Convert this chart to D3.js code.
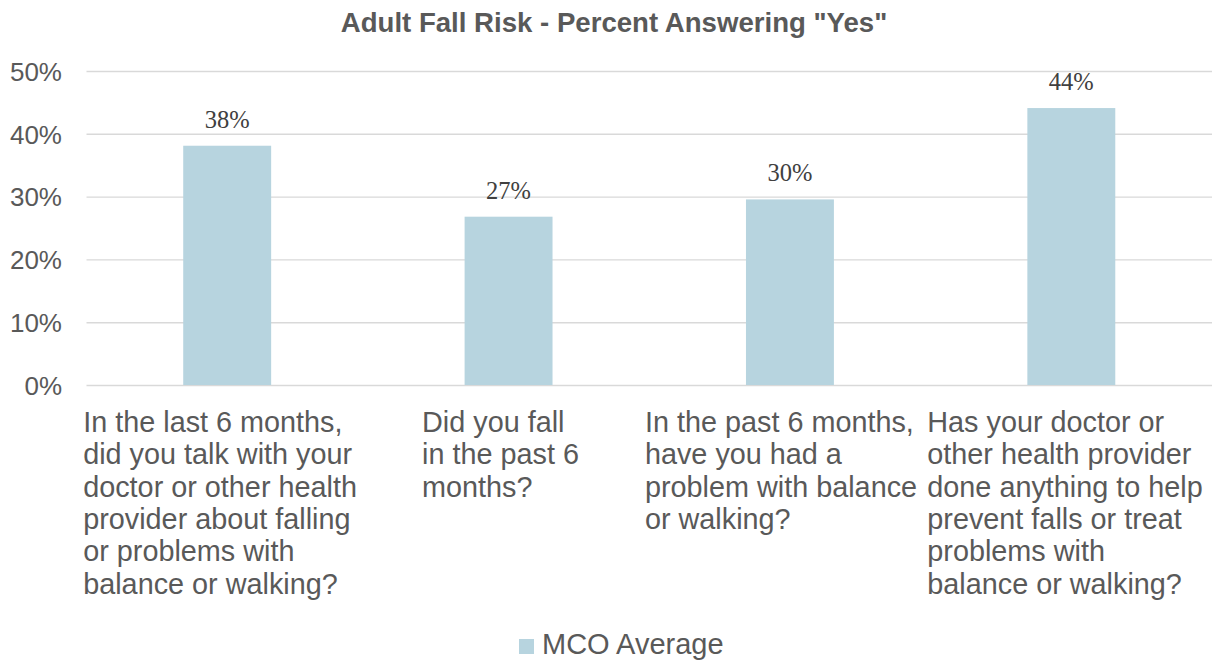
<!DOCTYPE html>
<html>
<head>
<meta charset="utf-8">
<script src="https://cdn.jsdelivr.net/npm/d3@7"></script>
<style>
  html, body { margin: 0; padding: 0; background: #ffffff; }
  svg { display: block; }
</style>
</head>
<body>
<svg id="chart" width="1212" height="660"></svg>
<script>
// Survey questions (one wrapped label per bar, line by line)
const categories = [
  ["In the last 6 months,", "did you talk with your", "doctor or other health", "provider about falling", "or problems with", "balance or walking?"],
  ["Did you fall", "in the past 6", "months?"],
  ["In the past 6 months,", "have you had a", "problem with balance", "or walking?"],
  ["Has your doctor or", "other health provider", "done anything to help", "prevent falls or treat", "problems with", "balance or walking?"]
];
// Share answering "Yes" (MCO Average)
const mcoAverage = [0.381, 0.268, 0.2955, 0.441];
const seriesName = "MCO Average";
const yTicks = [0, 0.1, 0.2, 0.3, 0.4, 0.5];
const chartTitle = 'Adult Fall Risk - Percent Answering "Yes"';

// Width of the text box each category label wraps into
const labelBoxWidths = [288, 173, 290, 288];

const svg = d3.select("#chart");
const plot = { left: 86.5, right: 1212, top: 71, bottom: 385 };
const textColor = "#595959";
const barColor = "#b7d4df";
const gridColor = "#d9d9d9";
const sans = "Arial, 'Liberation Sans', Helvetica, sans-serif";
const serif = "'Times New Roman', 'Liberation Serif', serif";

const x = d3.scaleBand()
  .domain(d3.range(categories.length))
  .range([plot.left, plot.right])
  .paddingInner(0.6875)
  .paddingOuter(0.34375);

const y = d3.scaleLinear().domain([0, 0.5]).range([plot.bottom, plot.top]);
const pct = d3.format(".0%");

// Title
svg.append("text")
  .attr("x", 614)
  .attr("y", 32)
  .attr("text-anchor", "middle")
  .attr("font-family", sans)
  .attr("font-weight", "bold")
  .attr("font-size", 27.6)
  .attr("fill", textColor)
  .text(chartTitle);

// Horizontal gridlines and value axis
const yAxis = d3.axisLeft(y)
  .tickValues(yTicks)
  .tickFormat(pct)
  .tickSize(-(plot.right - plot.left))
  .tickPadding(24.5);

const yg = svg.append("g")
  .attr("transform", `translate(${plot.left},0)`)
  .call(yAxis);
yg.select(".domain").remove();
yg.selectAll(".tick line")
  .attr("stroke", gridColor)
  .attr("stroke-width", 1.4);
yg.selectAll(".tick text")
  .attr("font-family", sans)
  .attr("font-size", 26)
  .attr("fill", textColor)
  .attr("dy", "0.36em");

// Bars
svg.append("g").selectAll("rect")
  .data(mcoAverage)
  .join("rect")
  .attr("x", (d, i) => x(i))
  .attr("y", d => y(d))
  .attr("width", x.bandwidth())
  .attr("height", d => y(0) - y(d))
  .attr("fill", barColor);

// Value labels above bars
svg.append("g").selectAll("text")
  .data(mcoAverage)
  .join("text")
  .attr("x", (d, i) => x(i) + x.bandwidth() / 2)
  .attr("y", d => y(d) - 18)
  .attr("text-anchor", "middle")
  .attr("font-family", serif)
  .attr("font-size", 24.5)
  .attr("fill", "#404040")
  .text(d => pct(d));

// Category labels: lines left-aligned inside a box centred under each bar
const catG = svg.append("g").selectAll("text")
  .data(categories)
  .join("text")
  .attr("font-family", sans)
  .attr("font-size", 28.8)
  .attr("fill", textColor)
  .attr("transform", (d, i) => `translate(${x(i) + x.bandwidth() / 2 - labelBoxWidths[i] / 2},432)`);
catG.selectAll("tspan")
  .data(d => d)
  .join("tspan")
  .attr("x", 0)
  .attr("y", (d, j) => j * 32.3)
  .text(d => d);

// Legend
const legend = svg.append("g").attr("transform", "translate(519,639)");
legend.append("rect")
  .attr("width", 15)
  .attr("height", 15)
  .attr("fill", barColor);
legend.append("text")
  .attr("x", 23)
  .attr("y", 15)
  .attr("font-family", sans)
  .attr("font-size", 29)
  .attr("fill", textColor)
  .text(seriesName);
</script>
</body>
</html>
